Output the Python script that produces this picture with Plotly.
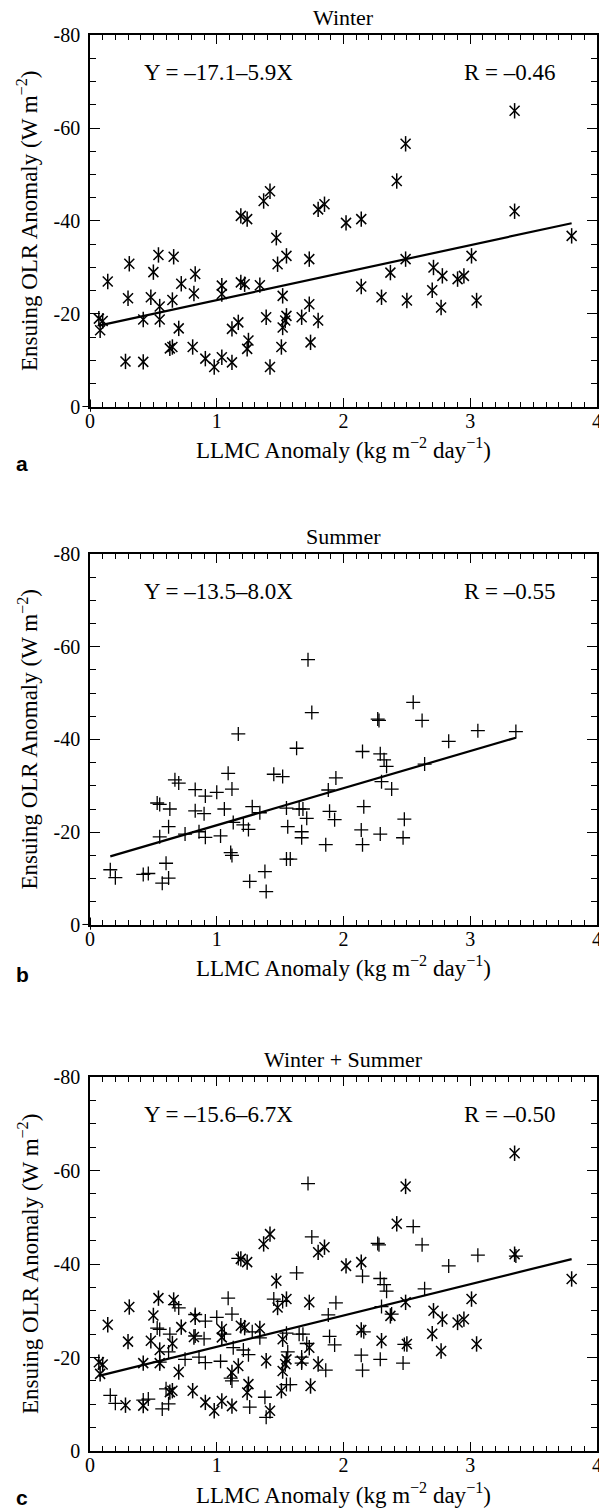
import plotly.graph_objects as go

# LLMC anomaly (x) vs ensuing OLR anomaly (y)
winter_x = [0.07, 0.08, 0.10, 0.14, 0.31, 0.30, 0.28, 0.42, 0.42, 0.48, 0.50, 0.54, 0.55, 0.55, 0.66, 0.65,
            0.63, 0.65, 0.70, 0.72, 0.83, 0.82, 0.81, 0.91, 0.98, 1.04, 1.04, 1.04, 1.12, 1.12,
            1.17, 1.19, 1.22, 1.19, 1.24, 1.25, 1.24, 1.34, 1.37, 1.42, 1.39, 1.42, 1.47, 1.48,
            1.55, 1.52, 1.52, 1.51, 1.55, 1.54, 1.67, 1.73, 1.73, 1.74, 1.80, 1.85, 1.80, 2.02,
            2.14, 2.14, 2.30, 2.37, 2.42, 2.49, 2.49, 2.50, 2.70, 2.71, 2.78, 2.77, 2.90, 2.95,
            3.01, 3.05, 3.35, 3.35, 3.80]
winter_y = [-19.0, -16.5, -18.5, -27.0, -30.8, -23.4, -9.8, -9.7, -18.8, -23.6, -29.0, -32.7, -21.6, -18.8, -32.3, -23.0,
            -12.6, -12.9, -16.9, -26.5, -28.6, -24.4, -12.9, -10.4, -8.6, -26.1, -24.3, -10.7, -9.6, -16.8,
            -18.2, -26.8, -26.4, -41.1, -40.4, -14.3, -12.5, -26.2, -44.3, -46.4, -19.3, -8.6, -36.4, -30.7,
            -32.5, -23.9, -17.1, -12.9, -19.6, -18.6, -19.3, -31.8, -22.1, -13.9, -42.5, -43.6, -18.6, -39.6,
            -40.4, -25.9, -23.6, -28.9, -48.6, -56.6, -31.8, -22.9, -25.1, -30.0, -28.2, -21.4, -27.5, -28.2,
            -32.5, -22.9, -63.7, -42.1, -36.8]

summer_x = [0.16, 0.20, 0.42, 0.46, 0.57, 0.62, 0.60, 0.55, 0.62, 0.53, 0.55, 0.63, 0.67, 0.70, 0.75, 0.83,
            0.91, 0.83, 0.90, 0.86, 0.91, 1.00, 1.06, 1.03, 1.09, 1.12, 1.13, 1.11, 1.12, 1.17,
            1.28, 1.21, 1.25, 1.26, 1.34, 1.38, 1.39, 1.45, 1.52, 1.55, 1.56, 1.55, 1.58, 1.63,
            1.65, 1.68, 1.67, 1.67, 1.71, 1.72, 1.75, 1.86, 1.89, 1.88, 1.94, 1.93, 2.14, 2.15,
            2.16, 2.15, 2.27, 2.28, 2.29, 2.32, 2.34, 2.30, 2.38, 2.29, 2.48, 2.47, 2.55, 2.62,
            2.64, 2.83, 3.06, 3.36]
summer_y = [-11.9, -10.2, -10.9, -11.1, -9.0, -10.1, -13.3, -19.0, -21.2, -26.3, -26.0, -25.0, -31.3, -30.6, -19.6, -29.2,
            -27.8, -24.6, -24.0, -20.1, -18.9, -28.6, -25.0, -19.2, -32.7, -29.3, -22.1, -15.6, -15.0, -41.2,
            -25.5, -21.6, -20.6, -9.4, -24.2, -11.5, -7.2, -32.5, -32.0, -25.2, -21.2, -14.2, -14.2, -38.1,
            -25.0, -25.0, -20.1, -18.8, -23.0, -57.2, -45.8, -17.3, -24.5, -29.1, -31.7, -22.7, -20.5, -17.3,
            -25.5, -37.4, -44.4, -44.1, -36.9, -35.6, -34.2, -30.9, -29.3, -19.6, -22.8, -18.8, -48.0, -44.1,
            -34.7, -39.6, -41.9, -41.7]

panel_titles = ['Winter', 'Summer', 'Winter + Summer']
panel_letters = ['a', 'b', 'c']
fit_intercept = [-17.1, -13.5, -15.6]
fit_slope = [-5.9, -8.0, -6.7]
fit_labels = ['Y = \u201317.1\u20135.9X', 'Y = \u201313.5\u20138.0X', 'Y = \u201315.6\u20136.7X']
r_labels = ['R = \u20130.46', 'R = \u20130.55', 'R = \u20130.50']
y_tickvals = [0, -20, -40, -60, -80]
y_ticktext = ['0', '-20', '-40', '-60', '-80']

SERIF = 'Liberation Serif, Times New Roman, serif'
domains = [[0.7373, 1.0], [0.3715, 0.6335], [0.0, 0.2641]]
letter_shift = [-57, -50, -46]


def star_traces(xs, ys, xa, ya):
    # 6-armed asterisk = vertical bar + thin x
    out = []
    for sym, size in [('line-ns', 11), ('x-thin', 10)]:
        out.append(go.Scatter(x=xs, y=ys, mode='markers', xaxis=xa, yaxis=ya,
                              marker=dict(symbol=sym, size=size, color='black',
                                          line=dict(color='black', width=1.5)),
                              hoverinfo='skip'))
    return out


def plus_trace(xs, ys, xa, ya):
    return go.Scatter(x=xs, y=ys, mode='markers', xaxis=xa, yaxis=ya,
                      marker=dict(symbol='cross-thin', size=10, color='black',
                                  line=dict(color='black', width=1.3)),
                      hoverinfo='skip')


def fit_trace(xs, b0, b1, xa, ya):
    lo, hi = min(xs), max(xs)
    return go.Scatter(x=[lo, hi], y=[b0 + b1 * lo, b0 + b1 * hi], mode='lines',
                      xaxis=xa, yaxis=ya, line=dict(color='black', width=2.2),
                      hoverinfo='skip')


data = []
data += star_traces(winter_x, winter_y, 'x', 'y')
data.append(fit_trace(winter_x, fit_intercept[0], fit_slope[0], 'x', 'y'))
data.append(plus_trace(summer_x, summer_y, 'x2', 'y2'))
data.append(fit_trace(summer_x, fit_intercept[1], fit_slope[1], 'x2', 'y2'))
data += star_traces(winter_x, winter_y, 'x3', 'y3')
data.append(plus_trace(summer_x, summer_y, 'x3', 'y3'))
data.append(fit_trace(winter_x + summer_x, fit_intercept[2], fit_slope[2], 'x3', 'y3'))

# the page body keeps its 8px default margin, so the figure is 8px smaller
layout = go.Layout(width=599, height=1501, showlegend=False,
                   margin=dict(l=82, r=5, t=27, b=58),
                   paper_bgcolor='white', plot_bgcolor='white',
                   font=dict(family=SERIF, color='black'))

annotations = []
shapes = []
for i in range(3):
    n = '' if i == 0 else str(i + 1)
    xname, yname = 'x' + n, 'y' + n
    layout['xaxis' + n] = dict(domain=[0, 1], range=[0, 4], anchor=yname,
                               tickmode='linear', tick0=0, dtick=1,
                               ticks='inside', ticklen=9, tickwidth=1, tickcolor='black',
                               minor=dict(dtick=0.1, ticks='inside', ticklen=5, tickwidth=1, tickcolor='black'),
                               showline=True, linecolor='black', linewidth=1.5, mirror='ticks',
                               showgrid=False, zeroline=False, ticklabelstandoff=-5,
                               tickfont=dict(family=SERIF, size=20, color='black'))
    layout['yaxis' + n] = dict(domain=domains[i], range=[0, -80], anchor=xname,
                               tickmode='array', tickvals=y_tickvals, ticktext=y_ticktext,
                               ticks='inside', ticklen=10, tickwidth=1, tickcolor='black',
                               minor=dict(tickmode='linear', tick0=0, dtick=5, ticks='inside',
                                          ticklen=6, tickwidth=1, tickcolor='black'),
                               showline=True, linecolor='black', linewidth=1.5, mirror='ticks',
                               showgrid=False, zeroline=False, ticklabelstandoff=4,
                               tickfont=dict(family=SERIF, size=20, color='black'))

    xd, yd = xname + ' domain', yname + ' domain'
    annotations += [
        dict(text=panel_titles[i], xref=xd, yref=yd, x=0.5, y=1, yshift=4,
             yanchor='bottom', borderpad=0, showarrow=False, font=dict(family=SERIF, size=22)),
        dict(text='LLMC Anomaly (kg m<sup>\u22122</sup> day<sup>\u22121</sup>)', xref=xd, yref=yd,
             x=0.5, y=0, yshift=-42, yanchor='middle', showarrow=False,
             font=dict(family=SERIF, size=23)),
        dict(text='Ensuing OLR Anomaly (W m<sup>\u22122</sup>)', xref=xd, yref=yd,
             x=0, y=0.5, xshift=-62, xanchor='center', yanchor='middle', textangle=-90,
             showarrow=False, font=dict(family=SERIF, size=23)),
        dict(text=fit_labels[i], xref=xname, yref=yname, x=0.41, y=-72,
             xanchor='left', yanchor='middle', showarrow=False, font=dict(family=SERIF, size=23)),
        dict(text=r_labels[i], xref=xname, yref=yname, x=3.69, y=-72,
             xanchor='right', yanchor='middle', showarrow=False, font=dict(family=SERIF, size=23)),
        dict(text='<b>' + panel_letters[i] + '</b>', xref=xd, yref=yd, x=0, y=0,
             xshift=-68, yshift=letter_shift[i], xanchor='center', yanchor='middle',
             showarrow=False, font=dict(family='Liberation Sans', size=21)),
    ]
    if i < 2:
        # little cross where the axes meet
        shapes += [
            dict(type='line', xref=xd, yref=yname, x0=-0.015, x1=0, y0=0, y1=0,
                 line=dict(color='black', width=2)),
            dict(type='line', xref=xname, yref=yd, x0=0, x1=0, y0=-0.013, y1=0.02,
                 line=dict(color='black', width=2)),
        ]

layout['annotations'] = annotations
layout['shapes'] = shapes

fig = go.Figure(data=data, layout=layout)
fig.write_html('out.html')
